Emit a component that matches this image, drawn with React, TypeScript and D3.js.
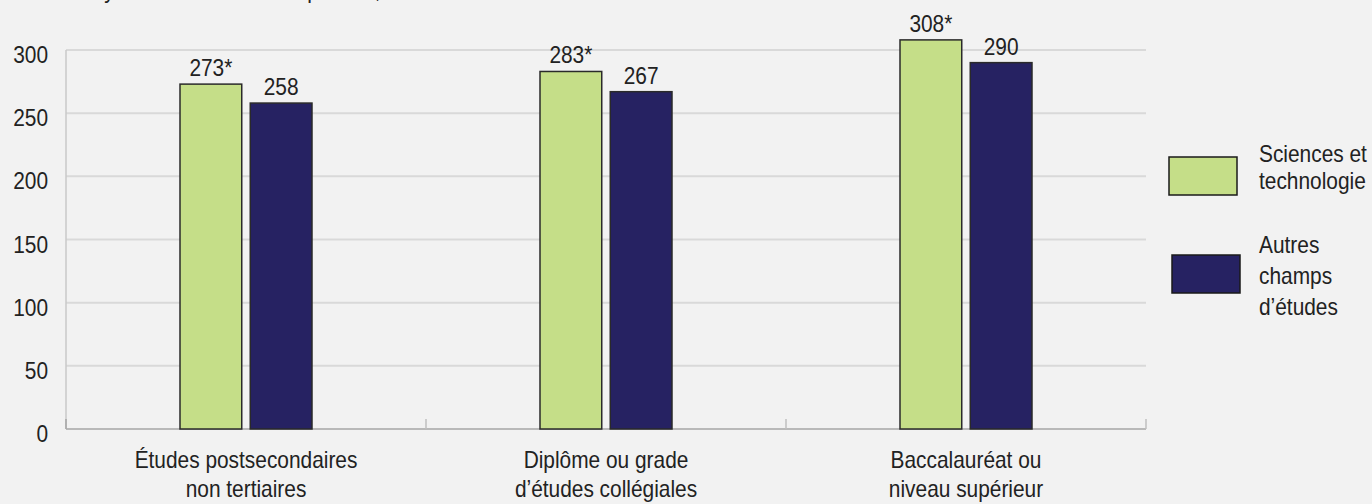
import { useMemo } from 'react';
import { scaleBand, scaleLinear } from 'd3';

const width = 1372;
const height = 504;

// data
const categories = [
  ['Études postsecondaires', 'non tertiaires'],
  ['Diplôme ou grade', 'd’études collégiales'],
  ['Baccalauréat ou', 'niveau supérieur'],
];
const seriesNames = ['Sciences et technologie', 'Autres champs d’études'];
const legendLines = [
  ['Sciences et', 'technologie'],
  ['Autres', 'champs', 'd’études'],
];
const sciences = [273, 283, 308];
const autres = [258, 267, 290];
const flags = ['*', '*', '*']; // significant difference marker on first series
const yTicks = [0, 50, 100, 150, 200, 250, 300];

const colors = ['#c5de88', '#262262'];
const font = "'Liberation Sans', Arial, sans-serif";
const fs = 24;
const sx = 0.87; // the original face is a condensed one, squeeze the installed sans

const margin = { top: 50, left: 66, right: 226, bottom: 75 };

// narrow text: a group squeezed horizontally around x
const NText = ({ x, y, lines, anchor = 'start', lh = 29 }: { x: number; y: number; lines: (string)[]; anchor?: string; lh?: number }) => (
  <g transform={`translate(${x},${y}) scale(${sx},1)`}>
    <text textAnchor={anchor} fontSize={fs} fill="#222">
      {lines.map((l, k) => (
        <tspan key={k} x={0} y={k * lh}>
          {l}
        </tspan>
      ))}
    </text>
  </g>
);

const App = () => {
  const innerBottom = height - margin.bottom; // 429
  const xScale = useMemo(
    () => scaleBand<number>().domain(categories.map((_, i) => i)).range([margin.left, width - margin.right]),
    []
  );
  const yScale = useMemo(() => scaleLinear().domain([0, 300]).range([innerBottom, margin.top]), [innerBottom]);

  // bars inside each group
  const barW = 62;
  const gap = 8;
  const groupW = barW * 2 + gap;
  const inner = scaleBand<number>().domain([0, 1]).range([0, groupW]).paddingInner(gap / (groupW / 2));

  const series = [sciences, autres];

  return (
    <svg
      width={width}
      height={height}
      style={{ display: 'block', position: 'absolute', left: 0, top: 0, background: '#f2f2f2', fontFamily: font }}
    >
      <rect x={0} y={0} width={width} height={height} fill="#f2f2f2" />
      {/* title sits above the frame, only its bottom edge shows */}
      <NText x={15} y={-2} lines={['Score moyen en littératie des diplômés, Canada']} />

      {/* gridlines */}
      {yTicks.map(t => (
        <line
          key={'g' + t}
          x1={margin.left}
          x2={width - margin.right}
          y1={yScale(t)}
          y2={yScale(t)}
          stroke={t === 0 ? '#a6a6a6' : '#d9d9d9'}
          strokeWidth={t === 0 ? 1.5 : 2}
        />
      ))}
      <line x1={margin.left} x2={margin.left} y1={margin.top} y2={innerBottom} stroke="#c8c8c8" strokeWidth={1.5} />

      {/* category ticks */}
      {categories.map((_, i) => {
        const x = (xScale(i) ?? 0) + xScale.bandwidth();
        return <line key={'t' + i} x1={x} x2={x} y1={innerBottom - 10} y2={innerBottom} stroke="#bfbfbf" strokeWidth={1.5} />;
      })}
      <line x1={margin.left} x2={margin.left} y1={innerBottom - 10} y2={innerBottom} stroke="#a6a6a6" strokeWidth={1.5} />

      {/* y labels */}
      {yTicks.map(t => (
        <NText key={'y' + t} x={48} y={yScale(t) + 13} anchor="end" lines={[String(t)]} />
      ))}

      {/* bars */}
      {categories.map((_, i) => {
        const gx = (xScale(i) ?? 0) + xScale.bandwidth() / 2 - groupW / 2;
        return series.map((s, j) => {
          const x = gx + (inner(j) ?? 0);
          const bw = inner.bandwidth();
          const y = yScale(s[i]);
          return (
            <g key={'b' + i + '-' + j}>
              <rect
                x={x}
                y={y}
                width={bw}
                height={innerBottom - y}
                fill={colors[j]}
                stroke="#2a2a2a"
                strokeWidth={1.5}
              />
              <NText x={x + bw / 2} y={y - 8} anchor="middle" lines={[`${s[i]}${j === 0 ? flags[i] : ''}`]} />
            </g>
          );
        });
      })}

      {/* category labels */}
      {categories.map((lines, i) => (
        <NText key={'c' + i} x={(xScale(i) ?? 0) + xScale.bandwidth() / 2} y={468} anchor="middle" lines={lines} />
      ))}

      {/* legend */}
      {seriesNames.map((name, j) => {
        const ry = j === 0 ? 157 : 255;
        const rx = j === 0 ? 1169 : 1172;
        const firstBase = j === 0 ? 162 : 253;
        return (
          <g key={name}>
            <rect x={rx} y={ry} width={68} height={38} fill={colors[j]} stroke="#1a1a1a" strokeWidth={1.5} />
            <NText x={1259} y={firstBase} lines={legendLines[j]} lh={j === 0 ? 27 : 31} />
          </g>
        );
      })}
    </svg>
  );
};

export default App;
